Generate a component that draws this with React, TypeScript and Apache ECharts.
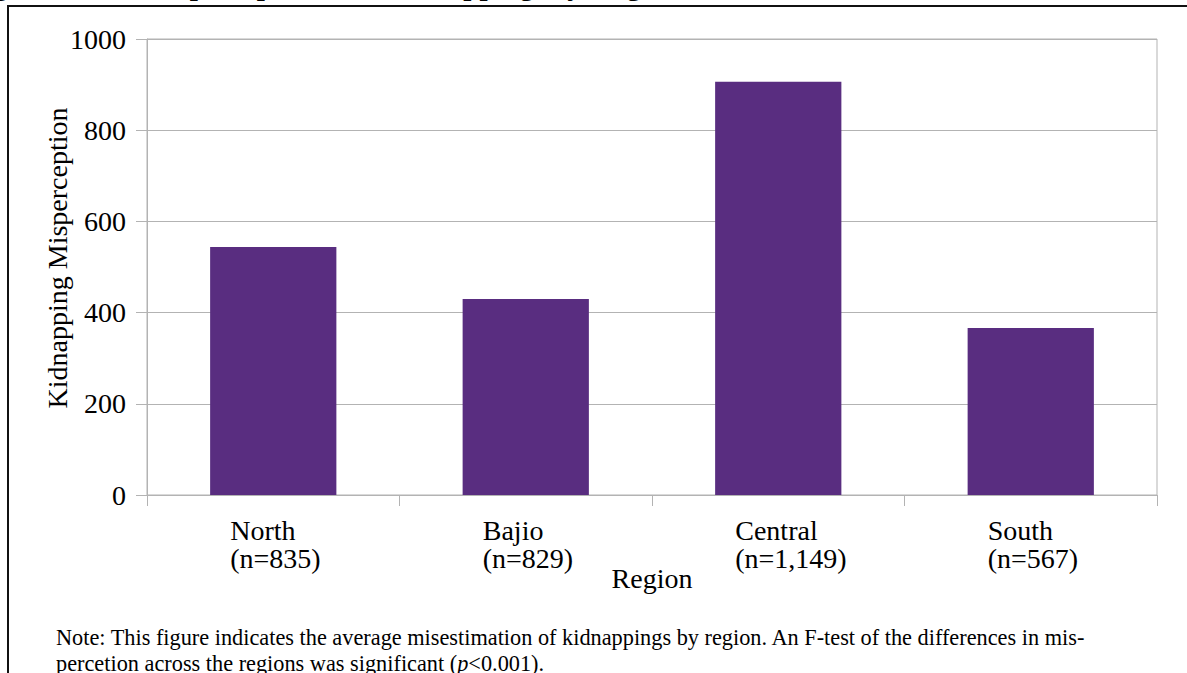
import React, { useEffect, useRef } from "react";
import * as echarts from "echarts";

const regions = ["North", "Bajio", "Central", "South"];
const sampleSizes = ["835", "829", "1,149", "567"];
const misperception = [544, 430, 906, 366];
const yTicks = { min: 0, max: 1000, interval: 200 };

const yAxisName = "Kidnapping Misperception";
const xAxisName = "Region";
const noteLine1 =
  "Note: This figure indicates the average misestimation of kidnappings by region. An F-test of the differences in mis-";
const noteLine2 = "percetion across the regions was significant ({i|p}<0.001).";
const titleWords = ["Figure 3:", "Misperception of", "Kidnapping", "by", "Region"];

const SERIF = "'Liberation Serif', 'Times New Roman', serif";
const GRID_COLOR = "#b3b3b3";
const BAR_COLOR = "#592d80";
const AXIS_FONT = 28;

export default function App() {
  const ref = useRef<HTMLDivElement>(null);

  useEffect(() => {
    if (!ref.current) return;
    const chart = echarts.init(ref.current, null, { renderer: "svg" });
    const titleX = [-32, 143, 386, 551, 593];
    chart.setOption({
      animation: false,
      backgroundColor: "#ffffff",
      grid: {
        left: 147,
        right: 30,
        top: 39,
        bottom: 178,
        show: true,
        borderColor: GRID_COLOR,
        borderWidth: 1,
        containLabel: false,
      },
      xAxis: {
        type: "category",
        data: regions.map((r, i) => r + "|" + sampleSizes[i]),
        name: xAxisName,
        nameLocation: "middle",
        nameGap: 69,
        nameMoveOverlap: false,
        nameTextStyle: { fontFamily: SERIF, fontSize: AXIS_FONT, color: "#000", verticalAlign: "top" },
        axisLine: { show: true, lineStyle: { color: GRID_COLOR, width: 1 } },
        axisTick: { show: true, length: 11, lineStyle: { color: GRID_COLOR } },
        axisLabel: {
          margin: 21,
          fontFamily: SERIF,
          fontSize: AXIS_FONT,
          color: "#000",
          align: "center",
          lineHeight: 28,
          formatter: (v: string) => {
            const [name, n] = v.split("|");
            return "{a|" + name + "}\n{a|(n=" + n + ")}";
          },
          rich: {
            a: {
              width: 86,
              align: "left",
              fontFamily: SERIF,
              fontSize: AXIS_FONT,
              lineHeight: 28,
              color: "#000",
            },
          },
        },
        splitLine: { show: false },
      },
      yAxis: {
        type: "value",
        min: yTicks.min,
        max: yTicks.max,
        interval: yTicks.interval,
        name: yAxisName,
        nameLocation: "middle",
        nameRotate: 90,
        nameGap: 76,
        nameMoveOverlap: false,
        nameTextStyle: {
          fontFamily: SERIF,
          fontSize: AXIS_FONT,
          color: "#000",
          padding: [0, 0, 0, 18],
        },
        axisLine: { show: true, lineStyle: { color: GRID_COLOR, width: 1 } },
        axisTick: { show: true, length: 11, lineStyle: { color: GRID_COLOR } },
        axisLabel: {
          margin: 21,
          fontFamily: SERIF,
          fontSize: AXIS_FONT,
          color: "#000",
          formatter: (v: number) => String(v),
        },
        splitLine: { show: true, lineStyle: { color: GRID_COLOR, width: 1 } },
      },
      series: [
        {
          type: "bar",
          data: misperception,
          barWidth: "50%",
          itemStyle: { color: BAR_COLOR },
        },
      ],
      graphic: [
        { type: "rect", left: 7, top: 5, shape: { x: 0, y: 0, width: 1180, height: 2 }, style: { fill: "#111" }, z: 10 },
        { type: "rect", left: 7, top: 5, shape: { x: 0, y: 0, width: 2, height: 668 }, style: { fill: "#111" }, z: 10 },
        ...titleWords.map((w, i) => ({
          type: "text",
          x: titleX[i],
          y: -15,
          style: {
            text: w,
            font: "bold 29px " + SERIF,
            fill: "#000",
            verticalAlign: "middle",
            align: "left",
          },
        })),
        {
          type: "text",
          x: 56,
          y: 637,
          style: {
            text: noteLine1,
            font: "22.3px " + SERIF,
            fill: "#000",
            verticalAlign: "middle",
            align: "left",
          },
        },
        {
          type: "text",
          x: 56,
          y: 663,
          style: {
            text: noteLine2,
            font: "22.3px " + SERIF,
            fill: "#000",
            verticalAlign: "middle",
            align: "left",
            rich: {
              i: { fontStyle: "italic", fontFamily: SERIF, fontSize: 22.3, fill: "#000" },
            },
          },
        },
      ],
    });
    return () => chart.dispose();
  }, []);

  return (
    <div
      ref={ref}
      style={{ position: "absolute", left: 0, top: 0, width: 1187, height: 673, background: "#fff" }}
    />
  );
}
